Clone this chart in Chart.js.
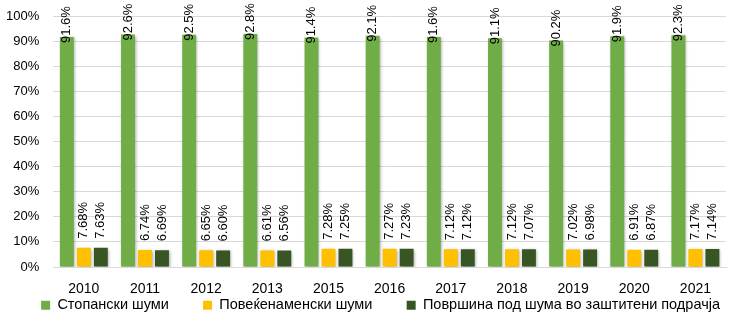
<!DOCTYPE html>
<html lang="mk">
<head>
  <meta charset="UTF-8">
  <title>Шуми по намена</title>
  <script src="https://cdn.jsdelivr.net/npm/chart.js"></script>
  <style>
    body {
      margin: 0;
      padding: 0;
      background: #ffffff;
    }
    canvas {
      display: block;
    }
  </style>
</head>
<body>
  <canvas id="forestChart" width="749" height="325"></canvas>
  <script>
    const years = ['2010', '2011', '2012', '2013', '2015', '2016', '2017', '2018', '2019', '2020', '2021'];
    const economicForests = [91.6, 92.6, 92.5, 92.8, 91.4, 92.1, 91.6, 91.1, 90.2, 91.9, 92.3];
    const multiPurposeForests = [7.68, 6.74, 6.65, 6.61, 7.28, 7.27, 7.12, 7.12, 7.02, 6.91, 7.17];
    const protectedAreaForests = [7.63, 6.69, 6.60, 6.56, 7.25, 7.23, 7.12, 7.07, 6.98, 6.87, 7.14];

    const FONT = '"Liberation Sans", Arial, sans-serif';
    const LEGEND_GAP = '        '; // extra room after a legend entry

    // Soft shadow under the bars
    const barShadow = {
      id: 'barShadow',
      beforeDatasetsDraw(chart) {
        const ctx = chart.ctx;
        ctx.save();
        ctx.shadowColor = 'rgba(0, 0, 0, 0.35)';
        ctx.shadowBlur = 3;
        ctx.shadowOffsetX = 1;
        ctx.shadowOffsetY = 1;
      },
      afterDatasetsDraw(chart) {
        chart.ctx.restore();
      }
    };

    // Vertical value labels above each bar
    const barLabels = {
      id: 'barLabels',
      afterDatasetsDraw(chart) {
        const ctx = chart.ctx;
        ctx.save();
        ctx.font = '13px ' + FONT;
        ctx.fillStyle = '#000000';
        ctx.textAlign = 'left';
        ctx.textBaseline = 'middle';
        chart.data.datasets.forEach((ds, i) => {
          const meta = chart.getDatasetMeta(i);
          meta.data.forEach((bar, j) => {
            const text = ds.data[j].toFixed(ds.decimals) + '%';
            ctx.save();
            ctx.translate(bar.x, bar.y + ds.labelOffset);
            ctx.rotate(-Math.PI / 2);
            ctx.fillText(text, 0, 0);
            ctx.restore();
          });
        });
        ctx.restore();
      }
    };

    const ctx = document.getElementById('forestChart').getContext('2d');
    new Chart(ctx, {
      type: 'bar',
      data: {
        labels: years,
        datasets: [
          {
            label: 'Стопански шуми',
            data: economicForests,
            backgroundColor: '#70AD47',
            decimals: 1,
            labelOffset: 6
          },
          {
            label: 'Повеќенаменски шуми',
            data: multiPurposeForests,
            backgroundColor: '#FFC000',
            decimals: 2,
            labelOffset: -9
          },
          {
            label: 'Површина под шума во заштитени подрачја',
            data: protectedAreaForests,
            backgroundColor: '#375623',
            decimals: 2,
            labelOffset: -9
          }
        ]
      },
      options: {
        responsive: false,
        animation: false,
        categoryPercentage: 0.833,
        barPercentage: 0.82,
        layout: {
          padding: { top: 16, right: 23, left: -8, bottom: 9 }
        },
        scales: {
          x: {
            grid: { display: false, drawTicks: false },
            border: { color: '#d9d9d9' },
            ticks: {
              color: '#000000',
              font: { family: FONT, size: 14 },
              padding: 14
            },
            afterFit(scale) {
              scale.height = 29;
            }
          },
          y: {
            min: 0,
            max: 100,
            border: { display: false },
            grid: { color: '#d9d9d9', drawTicks: false },
            ticks: {
              stepSize: 10,
              color: '#000000',
              padding: 14,
              font: { family: FONT, size: 13 },
              callback: v => v + '%'
            },
            afterFit(scale) {
              // tick padding is horizontal only here
              scale.paddingTop = 0;
              scale.paddingBottom = 0;
            }
          }
        },
        plugins: {
          legend: {
            position: 'bottom',
            align: 'end',
            maxHeight: 20,
            labels: {
              boxWidth: 9,
              boxHeight: 9,
              padding: 2,
              color: '#000000',
              font: { family: FONT, size: 14.5 },
              generateLabels(chart) {
                const items = Chart.defaults.plugins.legend.labels.generateLabels(chart);
                items.forEach((item, i) => {
                  item.text += i < items.length - 1 ? LEGEND_GAP : ' ';
                });
                return items;
              }
            }
          },
          tooltip: { enabled: false }
        }
      },
      plugins: [barShadow, barLabels]
    });
  </script>
</body>
</html>
